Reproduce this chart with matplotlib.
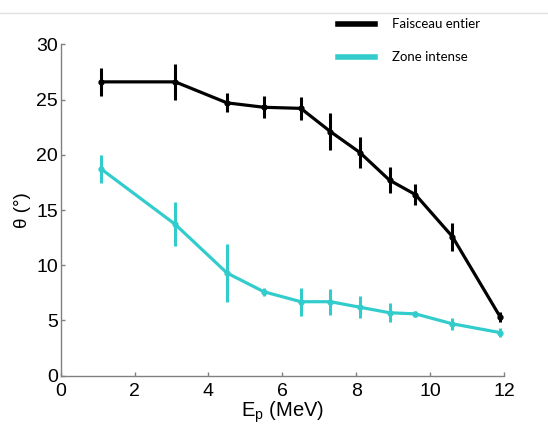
import matplotlib.pyplot as plt
from matplotlib.lines import Line2D

# values
energy = [1.1, 3.1, 4.5, 5.5, 6.5, 7.3, 8.1, 8.9, 9.6, 10.6, 11.9]

theta_full = [26.6, 26.6, 24.7, 24.3, 24.2, 22.1, 20.2, 17.7, 16.4, 12.6, 5.3]
err_full = [1.25, 1.6, 0.87, 1.0, 1.03, 1.66, 1.43, 1.18, 0.95, 1.27, 0.45]

theta_intense = [18.7, 13.7, 9.3, 7.6, 6.7, 6.7, 6.2, 5.7, 5.6, 4.7, 3.9]
err_intense = [1.25, 2.0, 2.64, 0.35, 1.27, 1.18, 0.98, 0.87, 0.3, 0.57, 0.4]

labels = ['Faisceau entier', 'Zone intense']
colors = ['black', '#33CCCC']

fig = plt.figure(figsize=(5.48, 4.26), dpi=100)
ax = fig.add_axes([0.1108, 0.118, 0.809, 0.778])

for y, e, c in [(theta_full, err_full, colors[0]), (theta_intense, err_intense, colors[1])]:
    ax.errorbar(energy, y, yerr=e, color=c, lw=2.3, elinewidth=2.2, capsize=0,
                marker='o', markersize=3.5, clip_on=False)

ax.set_xlim(0, 12)
ax.set_ylim(0, 30)
ax.set_xticks(range(0, 13, 2))
ax.set_yticks(range(0, 31, 5))

for side in ['top', 'right']:
    ax.spines[side].set_visible(False)
for side in ['left', 'bottom']:
    ax.spines[side].set_color('#808080')
    ax.spines[side].set_linewidth(1.0)

ax.tick_params(direction='in', length=3, width=1, color='#808080',
               labelsize=14, labelcolor='black')
ax.tick_params(axis='x', pad=5)
ax.tick_params(axis='y', pad=2)
for lab in ax.get_xticklabels() + ax.get_yticklabels():
    lab.set_family('Liberation Sans')

ax.set_xlabel('E$_\\mathregular{p}$ (MeV)', fontsize=14.5, family='Liberation Sans', labelpad=0)
ax.set_ylabel('θ (°)', fontsize=13.5, family='Liberation Sans', labelpad=4)

# legend in the top right corner
handles = [Line2D([], [], color=c, lw=4) for c in colors]
fig.legend(handles, labels, loc='upper left', bbox_to_anchor=(0.595, 0.985),
           frameon=False, prop={'family': 'Lato', 'size': 9.5},
           handlelength=2.8, handletextpad=1.3, labelspacing=1.6)

# thin gray rule at the top of the slide
fig.add_artist(Line2D([0, 1], [0.969, 0.969], color='#e0e0e0', lw=1))

fig.savefig('out.png', dpi=100)
